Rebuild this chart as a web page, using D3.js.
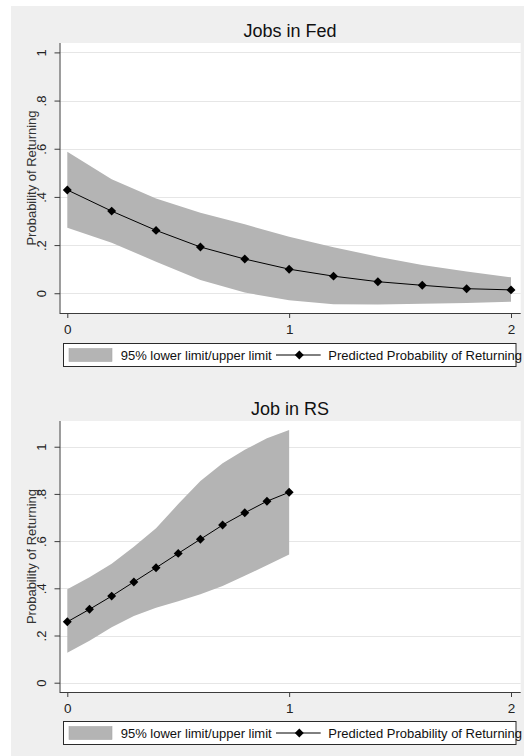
<!DOCTYPE html>
<html>
<head>
<meta charset="utf-8">
<script src="https://cdn.jsdelivr.net/npm/d3@7/dist/d3.min.js"></script>
<style>
  html, body { margin: 0; padding: 0; background: #ffffff; }
  svg { display: block; font-family: "Liberation Sans", Arial, sans-serif; }
</style>
</head>
<body>
<svg id="chart" width="524" height="756"></svg>
<script>
// Panel 1: Jobs in Fed
const fedX     = [0, 0.2, 0.4, 0.6, 0.8, 1.0, 1.2, 1.4, 1.6, 1.8, 2.0];
const fedPred  = [0.429, 0.341, 0.261, 0.192, 0.142, 0.100, 0.071, 0.048, 0.033, 0.019, 0.014];
const fedUpper = [0.588, 0.473, 0.393, 0.334, 0.286, 0.235, 0.191, 0.152, 0.117, 0.090, 0.066];
const fedLower = [0.272, 0.210, 0.131, 0.055, 0.003, -0.029, -0.046, -0.047, -0.044, -0.040, -0.035];

// Panel 2: Job in RS
const rsX     = [0, 0.1, 0.2, 0.3, 0.4, 0.5, 0.6, 0.7, 0.8, 0.9, 1.0];
const rsPred  = [0.258, 0.311, 0.367, 0.427, 0.487, 0.548, 0.608, 0.668, 0.720, 0.769, 0.807];
const rsUpper = [0.396, 0.447, 0.504, 0.576, 0.654, 0.757, 0.855, 0.930, 0.987, 1.036, 1.071];
const rsLower = [0.127, 0.178, 0.235, 0.283, 0.318, 0.345, 0.375, 0.410, 0.453, 0.498, 0.543];

const yTicks = [0, 0.2, 0.4, 0.6, 0.8, 1];
const yTickLabels = ["0", ".2", ".4", ".6", ".8", "1"];
const xTicks = [0, 1, 2];
const xTickLabels = ["0", "1", "2"];

const titles = ["Jobs in Fed", "Job in RS"];
const yTitle = "Probability of Returning";
const legendLabels = ["95% lower limit/upper limit", "Predicted Probability of Returning"];

const BG = "#efefef", BAND = "#b4b4b4", GRID = "#e6e6e6", AXIS = "#3c3c3c";

const svg = d3.select("#chart");

// outer graph region
svg.append("rect").attr("x", 11).attr("y", 6).attr("width", 513).attr("height", 750).attr("fill", BG);

const panels = [
  { title: titles[0], xs: fedX, pred: fedPred, lo: fedLower, hi: fedUpper,
    top: 43, bottom: 313, yDom: [-0.082, 1.039], titleY: 37, legTop: 343.5 },
  { title: titles[1], xs: rsX, pred: rsPred, lo: rsLower, hi: rsUpper,
    top: 421, bottom: 692, yDom: [-0.0394, 1.109], titleY: 415, legTop: 721.5 }
];

const plotLeft = 59.5, plotRight = 520.7;

panels.forEach(p => {
  const g = svg.append("g");
  const x = d3.scaleLinear().domain([0, 2]).range([67.3, 511]);
  const y = d3.scaleLinear().domain(p.yDom).range([p.bottom, p.top]);

  // plot region
  g.append("rect").attr("x", plotLeft).attr("y", p.top)
    .attr("width", plotRight - plotLeft).attr("height", p.bottom - p.top).attr("fill", "#ffffff");

  // horizontal grid
  g.selectAll("line.grid").data(yTicks).enter().append("line")
    .attr("x1", plotLeft).attr("x2", plotRight)
    .attr("y1", d => Math.round(y(d)) + 0.5).attr("y2", d => Math.round(y(d)) + 0.5)
    .attr("stroke", GRID).attr("stroke-width", 1);

  // confidence band
  const idx = d3.range(p.xs.length);
  const area = d3.area()
    .x(i => x(p.xs[i])).y0(i => y(p.lo[i])).y1(i => y(p.hi[i]));
  g.append("path").datum(idx).attr("d", area).attr("fill", BAND);

  // predicted line
  const line = d3.line().x(i => x(p.xs[i])).y(i => y(p.pred[i]));
  g.append("path").datum(idx).attr("d", line)
    .attr("fill", "none").attr("stroke", "#000").attr("stroke-width", 1);

  const diamond = d3.symbol().type(d3.symbolSquare).size(40);
  g.selectAll("path.pt").data(idx).enter().append("path")
    .attr("d", diamond)
    .attr("transform", i => `translate(${x(p.xs[i])},${y(p.pred[i])}) rotate(45)`)
    .attr("fill", "#000");

  // y axis
  const yAxis = d3.axisLeft(y).tickValues(yTicks).tickSize(5).tickFormat((d, i) => yTickLabels[i]);
  const ya = g.append("g").attr("transform", `translate(${plotLeft},0)`).call(yAxis);
  ya.select(".domain").attr("d", `M0.5,${p.top}V${p.bottom}`).attr("stroke", AXIS);
  ya.selectAll(".tick line").attr("stroke", AXIS).attr("x1", 0.5).attr("x2", -5);
  ya.selectAll(".tick text")
    .attr("x", null).attr("dy", null)
    .attr("text-anchor", "middle")
    .attr("transform", "translate(-14,0) rotate(-90)")
    .attr("font-size", 13).attr("fill", "#222")
    .attr("font-family", "Liberation Sans, Arial, sans-serif");

  // x axis
  const xAxis = d3.axisBottom(x).tickValues(xTicks).tickSize(5).tickFormat((d, i) => xTickLabels[i]);
  const xa = g.append("g").attr("transform", `translate(0,${p.bottom})`).call(xAxis);
  xa.select(".domain").attr("d", `M${plotLeft},0.5H${plotRight}`).attr("stroke", AXIS);
  xa.selectAll(".tick line").attr("stroke", AXIS);
  xa.selectAll(".tick text").attr("y", 21).attr("dy", null)
    .attr("font-size", 13.5).attr("fill", "#222")
    .attr("font-family", "Liberation Sans, Arial, sans-serif");

  // titles
  g.append("text").attr("x", (plotLeft + plotRight) / 2).attr("y", p.titleY)
    .attr("text-anchor", "middle").attr("font-size", 18).attr("fill", "#111").text(p.title);
  g.append("text")
    .attr("transform", `translate(36,${(p.top + p.bottom) / 2}) rotate(-90)`)
    .attr("text-anchor", "middle").attr("font-size", 13).attr("fill", "#333").text(yTitle);

  // legend
  const lg = g.append("g").attr("transform", `translate(0,${p.legTop})`);
  lg.append("rect").attr("x", 63.5).attr("y", 0).attr("width", 452.5).attr("height", 23)
    .attr("fill", "#fff").attr("stroke", "#2a2a2a").attr("stroke-width", 1);
  lg.append("rect").attr("x", 69).attr("y", 5).attr("width", 43).attr("height", 13)
    .attr("fill", BAND).attr("stroke", "#a8a8a8").attr("stroke-width", 0.6);
  lg.append("text").attr("x", 120.7).attr("y", 16).attr("font-size", 13).attr("fill", "#111")
    .text(legendLabels[0]);
  lg.append("line").attr("x1", 276).attr("x2", 320.7).attr("y1", 11.5).attr("y2", 11.5)
    .attr("stroke", "#000").attr("stroke-width", 1);
  lg.append("path").attr("d", diamond).attr("transform", "translate(299.3,11.5) rotate(45)").attr("fill", "#000");
  lg.append("text").attr("x", 328.3).attr("y", 16).attr("font-size", 13).attr("fill", "#111")
    .text(legendLabels[1]);
});
</script>
</body>
</html>
